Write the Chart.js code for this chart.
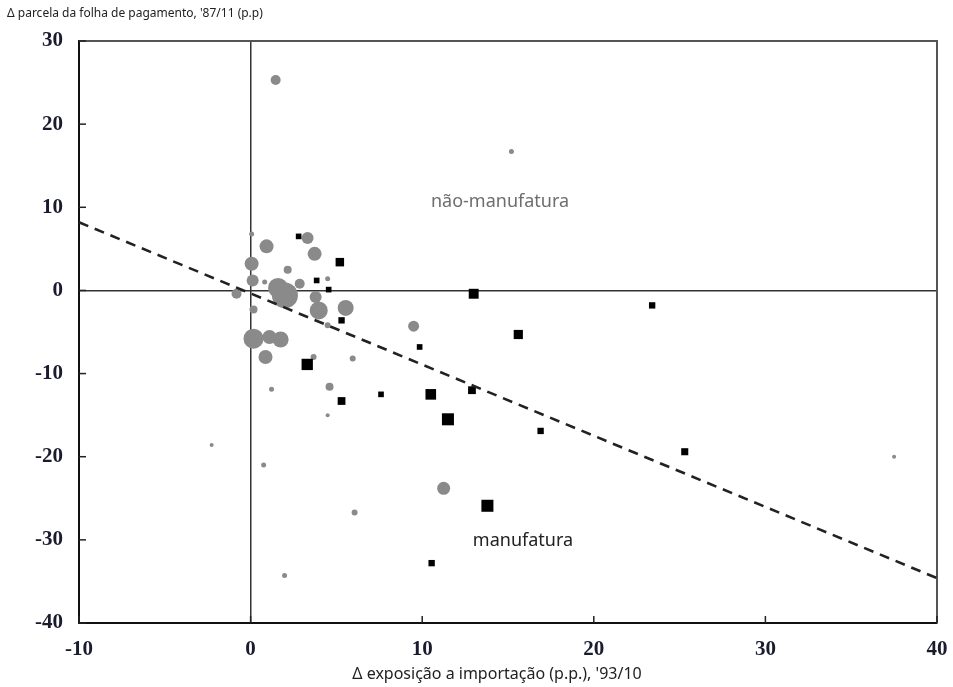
<!DOCTYPE html>
<html>
<head>
<meta charset="utf-8">
<script src="https://cdn.jsdelivr.net/npm/chart.js@4/dist/chart.umd.min.js"></script>
<style>
html,body{margin:0;padding:0;background:#fff;}
#wrap{width:953px;height:687px;position:relative;}
</style>
</head>
<body>
<div id="wrap"><canvas id="c" width="953" height="687"></canvas></div>
<script>
// ---- data ----
const yTitle = "\u0394 parcela da folha de pagamento, '87/11 (p.p)";
const xTitle = "\u0394 exposi\u00e7\u00e3o a importa\u00e7\u00e3o (p.p.), '93/10";
const labelNonManuf = "n\u00e3o-manufatura";
const labelManuf = "manufatura";

// non-manufacturing industries (grey circles): x, y, weight
const nonX = [1.46, 15.2, 0.06, 0.93, 3.32, 3.73, 0.06, 2.16, 0.12, 0.82, -0.82, 2.0, 1.6, 2.86, 3.79, 3.97, 5.54, 4.49, 4.49, 0.17, 0.17, 1.1, 1.75, 0.87, 3.67, 5.95, 9.5, 4.6, 4.49, 1.22, -2.27, 0.76, 1.98, 6.06, 11.25, 37.5];
const nonY = [25.3, 16.7, 6.8, 5.3, 6.3, 4.4, 3.2, 2.5, 1.2, 1.0, -0.4, -0.6, 0.3, 0.8, -0.8, -2.4, -2.1, 1.4, -4.2, -2.3, -5.8, -5.6, -5.9, -8.0, -8.0, -8.2, -4.3, -11.6, -15.0, -11.9, -18.6, -21.0, -34.3, -26.7, -23.8, -20.0];
const nonW = [5, 2.5, 2.5, 7, 6, 7, 7, 4, 6, 2.5, 5, 13, 10, 5, 6, 9, 8, 2.5, 3, 4, 10, 7, 8, 7, 3, 3, 5.5, 4, 2, 2.5, 2, 2.5, 2.5, 3, 6.5, 2];

// manufacturing industries (black squares): x, y, weight
const manX = [2.8, 5.2, 3.85, 4.55, 5.3, 3.3, 5.3, 7.6, 9.85, 10.5, 12.9, 11.5, 16.9, 13.8, 10.55, 13.0, 15.6, 23.4, 25.3];
const manY = [6.5, 3.4, 1.2, 0.1, -3.6, -8.9, -13.3, -12.5, -6.8, -12.5, -12.0, -15.5, -16.9, -25.9, -32.8, -0.4, -5.3, -1.8, -19.4];
const manW = [4, 6, 4, 4, 4.5, 8, 5.5, 4, 4, 7.5, 5.5, 8.5, 4.5, 8.5, 4.5, 7, 6.5, 4.5, 5];

// fitted line end points
const fitX = [-10, 40];
const fitY = [8.2, -34.6];

// axis ticks
const xTicks = [-10, 0, 10, 20, 30, 40];
const yTicks = [30, 20, 10, 0, -10, -20, -30, -40];

// ---- build ----
const toPts = (xs, ys, ws) => xs.map((x, i) => ({x: x, y: ys[i], r: ws[i]}));

const extras = {
  id: 'extras',
  beforeDatasetsDraw(chart) {
    const {ctx, chartArea: a} = chart;
    ctx.save();
    // top / right frame
    ctx.strokeStyle = '#555';
    ctx.lineWidth = 2;
    ctx.beginPath();
    ctx.moveTo(a.left, a.top); ctx.lineTo(a.right, a.top); ctx.lineTo(a.right, a.bottom);
    ctx.stroke();
    // inward tick marks
    ctx.strokeStyle = '#222';
    ctx.lineWidth = 1.5;
    const xs = chart.scales.x, ys = chart.scales.y;
    xs.ticks.forEach(t => {
      const p = xs.getPixelForValue(t.value);
      ctx.beginPath(); ctx.moveTo(p, a.bottom); ctx.lineTo(p, a.bottom - 7); ctx.stroke();
    });
    ys.ticks.forEach(t => {
      const p = ys.getPixelForValue(t.value);
      ctx.beginPath(); ctx.moveTo(a.left, p); ctx.lineTo(a.left + 7, p); ctx.stroke();
    });
    ctx.restore();
  },
  afterDraw(chart) {
    const {ctx} = chart;
    ctx.save();
    ctx.textBaseline = 'middle';
    ctx.fillStyle = '#222';
    ctx.font = '12px "Noto Sans"';
    ctx.textAlign = 'left';
    ctx.fillText(yTitle, 7, 14);
    ctx.font = '16px "Noto Sans"';
    ctx.textAlign = 'center';
    ctx.fillText(xTitle, 497, 674);
    ctx.font = '18px "Noto Sans"';
    ctx.fillStyle = '#6e6e6e';
    ctx.fillText(labelNonManuf, 500, 202);
    ctx.fillStyle = '#222';
    ctx.fillText(labelManuf, 523, 541);
    ctx.restore();
  }
};

new Chart(document.getElementById('c'), {
  type: 'bubble',
  data: {
    datasets: [
      {
        type: 'line',
        data: fitX.map((x, i) => ({x: x, y: fitY[i]})),
        borderColor: '#222',
        borderWidth: 2.6,
        borderDash: [10, 7],
        pointRadius: 0,
        fill: false,
        order: 0
      },
      {
        data: toPts(manX, manY, manW),
        pointStyle: 'rect',
        backgroundColor: '#000',
        borderWidth: 0,
        order: 1
      },
      {
        data: toPts(nonX, nonY, nonW),
        pointStyle: 'circle',
        backgroundColor: '#8a8a8a',
        borderWidth: 0,
        order: 2
      }
    ]
  },
  options: {
    responsive: false,
    animation: false,
    events: [],
    layout: {padding: {left: 0, right: 16, top: 41, bottom: 0}},
    plugins: {legend: {display: false}, tooltip: {enabled: false}},
    scales: {
      x: {
        type: 'linear', min: -10, max: 40,
        afterBuildTicks: s => { s.ticks = xTicks.map(v => ({value: v})); },
        afterFit: s => { s.height = 64; s.paddingRight = 0; s.paddingLeft = 0; },
        border: {color: '#111', width: 2},
        grid: {drawTicks: false, lineWidth: 1.5, color: c => c.tick && c.tick.value === 0 ? '#333' : 'rgba(0,0,0,0)'},
        ticks: {padding: 14, color: '#1b1b2f', font: {family: '"Liberation Serif"', size: 21, weight: 'bold'}, maxRotation: 0}
      },
      y: {
        type: 'linear', min: -40, max: 30,
        afterBuildTicks: s => { s.ticks = yTicks.map(v => ({value: v})); },
        afterFit: s => { s.width = 79; s.paddingTop = 0; s.paddingBottom = 0; },
        border: {color: '#111', width: 2},
        grid: {drawTicks: false, lineWidth: 1.5, color: c => c.tick && c.tick.value === 0 ? '#333' : 'rgba(0,0,0,0)'},
        ticks: {padding: 16, color: '#1b1b2f', font: {family: '"Liberation Serif"', size: 21, weight: 'bold'}}
      }
    }
  },
  plugins: [extras]
});
</script>
</body>
</html>
